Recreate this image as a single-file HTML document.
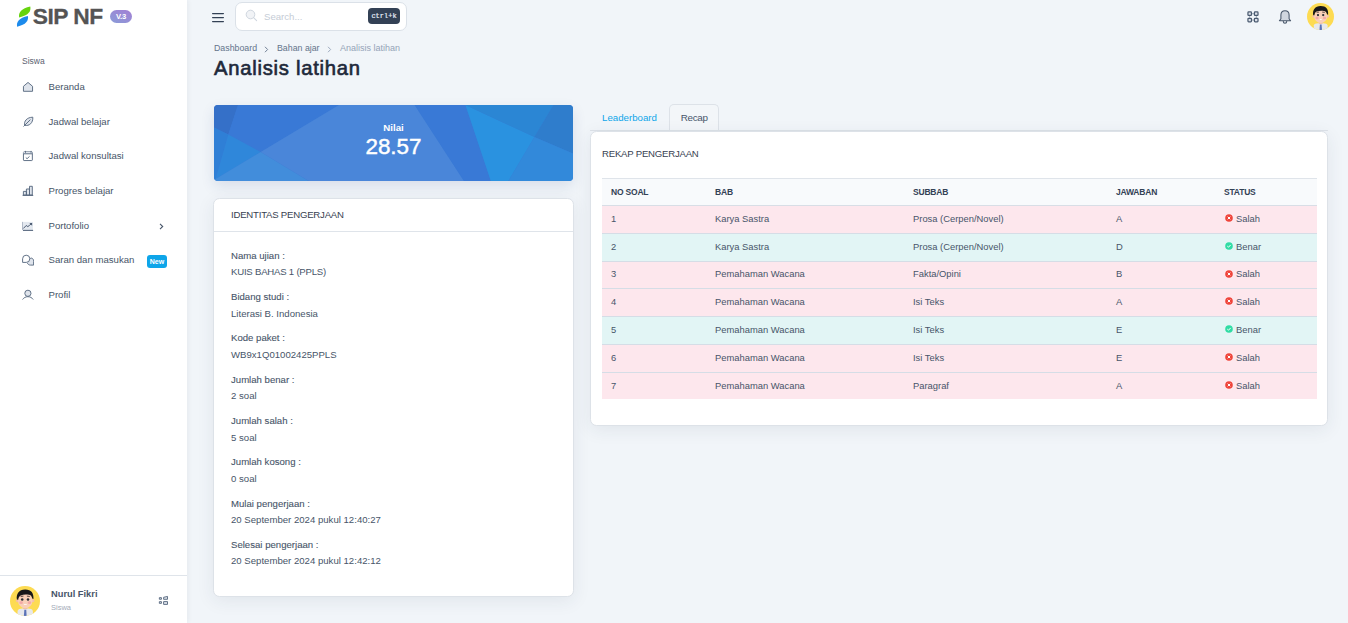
<!DOCTYPE html>
<html><head><meta charset="utf-8">
<style>
*{box-sizing:border-box;margin:0;padding:0}
html,body{width:1348px;height:623px;overflow:hidden}
body{background:#f1f5f9;font-family:"Liberation Sans",sans-serif;color:#475569;position:relative}
.a{position:absolute;white-space:nowrap}
#side{position:absolute;left:0;top:0;width:187px;height:623px;background:#fff;box-shadow:1px 0 5px rgba(30,41,59,.06)}
.nav{position:absolute;left:0;width:187px;height:20px}
.nav .ic{position:absolute;left:22px;top:4px;width:12px;height:12px}
.nav .tx{position:absolute;left:48.5px;top:0px;font-size:9.6px;line-height:20px;color:#475569}
.card{position:absolute;background:#fff;border:1px solid #dde2e8;border-radius:6.5px;box-shadow:0 4px 18px rgba(40,45,80,.08)}
.lbl{font-size:9.6px;color:#475569;-webkit-text-stroke:0.1px #475569}
.val{font-size:9.6px;color:#475569}
.th{font-size:8.5px;font-weight:bold;color:#334155;line-height:12px;letter-spacing:-0.2px}
.td{font-size:9.4px;color:#475569;line-height:12px}
</style></head><body>

<!-- SIDEBAR -->
<div id="side">
  <!-- logo -->
  <svg class="a" style="left:15px;top:5px" width="18" height="24" viewBox="0 0 18 24">
    <path d="M4.1 12.4 C3.3 7.6 6.5 3.4 15.3 1.6 C16.2 6.6 13.4 10.6 4.1 12.4Z" fill="#66d40e"/>
    <path d="M2.1 21.7 C1.2 16.8 4 12.9 12.9 11 C13.8 15.6 11 19.7 2.1 21.7Z" fill="#1d8bec"/>
  </svg>
  <div class="a" style="left:32.8px;top:3.1px;font-size:22.8px;line-height:26px;font-weight:bold;color:#545454;letter-spacing:-0.55px;-webkit-text-stroke:0.3px #545454">SIP NF</div>
  <div class="a" style="left:110px;top:10px;width:22px;height:13px;border-radius:7px;background:linear-gradient(25deg,#8a9cd8,#a37fd4);color:#fff;font-size:7.6px;font-weight:bold;line-height:13px;text-align:center;letter-spacing:-0.2px">V.3</div>

  <div class="a" style="left:22px;top:56.2px;font-size:8.5px;line-height:10px;color:#5b6170">Siswa</div>

  <div class="nav" style="top:77px">
    <svg class="ic" viewBox="0 0 12 12"><path d="M1.45 5.3 L6 1.45 L10.55 5.3 V10.3 H1.45 Z" fill="#dfe4ec" stroke="#5b6b82" stroke-width="0.95" stroke-linejoin="round"/></svg>
    <div class="tx">Beranda</div>
  </div>
  <div class="nav" style="top:112px">
    <svg class="ic" viewBox="0 0 12 12"><path d="M2.7 9.3 C1.7 5.4 4.7 1.3 10.8 1.2 C11.2 7 7.2 10.3 2.7 9.3Z" fill="#dfe4ec" stroke="#5b6b82" stroke-width="0.95"/><path d="M1.5 10.5 L8.4 3.6" fill="none" stroke="#5b6b82" stroke-width="0.95"/></svg>
    <div class="tx">Jadwal belajar</div>
  </div>
  <div class="nav" style="top:146px">
    <svg class="ic" viewBox="0 0 12 12"><rect x="1.45" y="1.9" width="8.9" height="8.65" rx="0.6" fill="none" stroke="#5b6b82" stroke-width="0.95"/><rect x="1.5" y="2" width="8.8" height="1.8" fill="#dfe4ec"/><path d="M1.45 3.8 H10.35 M3.5 0.9 V2.8 M9.05 0.9 V2.8 M3.8 7.6 L5.1 8.7 L7.5 6.4" fill="none" stroke="#5b6b82" stroke-width="0.95"/></svg>
    <div class="tx">Jadwal konsultasi</div>
  </div>
  <div class="nav" style="top:181px">
    <svg class="ic" viewBox="0 0 12 12"><path d="M1.4 10 V6.4 H4.4 V10 Z M4.4 10 V4 H7.5 V10 Z M7.5 10 V1.3 H10.3 V10 Z" fill="#dfe4ec" stroke="#5b6b82" stroke-width="0.95"/><path d="M0.6 10.4 H11.2" fill="none" stroke="#5b6b82" stroke-width="1.1"/></svg>
    <div class="tx">Progres belajar</div>
  </div>
  <div class="nav" style="top:216px">
    <svg class="ic" viewBox="0 0 12 12"><rect x="0.1" y="1.9" width="10.8" height="8.5" fill="#e3e8ef"/><path d="M0.5 1.9 V10" stroke="#aab4c3" stroke-width="0.9"/><path d="M1 10.4 H11.1" stroke="#5b6b82" stroke-width="1.1"/><path d="M1.3 8.5 L4.2 5.5 L5.8 6.6 L7.3 5.5 L9.2 3.8" fill="none" stroke="#4b5a72" stroke-width="1"/><path d="M7.4 3.1 L10.1 3.1 L10.1 5.8Z" fill="#4b5a72"/></svg>
    <div class="tx">Portofolio</div>
    <svg class="a" style="left:159px;top:7px" width="5" height="7" viewBox="0 0 5 7"><path d="M1 0.9 L3.7 3.5 L1 6.1" fill="none" stroke="#475569" stroke-width="1.1"/></svg>
  </div>
  <div class="nav" style="top:250px">
    <svg class="ic" viewBox="0 0 12 12"><path d="M7.4 5.2 C8 4.6 8.7 4.1 9.4 4.1 C10.9 4.3 11.6 5.6 11.6 7.4 V11.1 H8.4 C7 11.1 5.7 10.3 5.3 8.8" fill="#dfe4ec" stroke="#5b6b82" stroke-width="0.95"/><path d="M0.6 8.4 V4.8 A3.6 3.6 0 1 1 4.2 8.4 Z" fill="#fff" stroke="#5b6b82" stroke-width="0.95"/></svg>
    <div class="tx">Saran dan masukan</div>
    <div class="a" style="left:147px;top:5px;width:20px;height:13px;border-radius:3px;background:#0ea5e9;color:#fff;font-size:7px;font-weight:bold;line-height:13px;text-align:center">New</div>
  </div>
  <div class="nav" style="top:285px">
    <svg class="ic" viewBox="0 0 12 12"><circle cx="5.9" cy="4.3" r="3.1" fill="#dfe4ec" stroke="#5b6b82" stroke-width="0.95"/><path d="M0.6 10.5 C1.8 8.7 3.6 7.7 5.9 7.7 C8.2 7.7 10 8.7 11.2 10.5" fill="none" stroke="#5b6b82" stroke-width="0.95"/></svg>
    <div class="tx">Profil</div>
  </div>

  <div class="a" style="left:0;top:575px;width:187px;height:1px;background:#dfe4ea"></div>
  <svg class="a" id="av1" style="left:10px;top:586px" width="30" height="30" viewBox="0 0 27 27">
    <defs><clipPath id="cc1"><circle cx="13.5" cy="13.5" r="13.5"/></clipPath></defs>
    <g clip-path="url(#cc1)">
      <rect width="27" height="27" fill="#fddb52"/>
      <path d="M6.6 27 L6.9 22.2 C7.2 21 9 20.4 11.2 20.3 H16.2 C18.4 20.4 20.2 21 20.5 22.2 L20.8 27 Z" fill="#e7e8ec"/>
      <rect x="11.8" y="17.6" width="3.8" height="3.2" fill="#f2bda3"/>
      <path d="M12.9 21.4 H14.6 L15 27 H12.5Z" fill="#5b73b7"/>
      <circle cx="6.9" cy="13.2" r="1.5" fill="#f5bfa6"/><circle cx="20.5" cy="13.2" r="1.5" fill="#f5bfa6"/>
      <ellipse cx="13.7" cy="13.2" rx="6.5" ry="6.9" fill="#f9cfb8"/>
      <path d="M6.2 12.2 C5.4 7 8 3.3 13.6 3.1 C19 3 21.6 6.4 21.1 11.8 L20 11.2 C19.7 9.2 18.6 8.1 17 7.9 C14.2 7.5 11.6 7.7 9.6 8.5 C8.2 9.1 7.6 10.6 7.4 12.3 Z" fill="#17171a"/>
      <path d="M9.6 9.4 L12.1 9.1 M15.2 9.1 L17.8 9.4" stroke="#5a4640" stroke-width="0.9"/>
      <circle cx="11" cy="12.1" r="1.15" fill="#2b3036"/><circle cx="16.2" cy="12.1" r="1.15" fill="#2b3036"/>
      <ellipse cx="10" cy="15" rx="1.6" ry="1.2" fill="#f3a1a3" opacity=".85"/><ellipse cx="17.5" cy="15" rx="1.6" ry="1.2" fill="#f3a1a3" opacity=".85"/>
      <path d="M12.3 16.1 H15.2 C15 17.2 12.5 17.2 12.3 16.1Z" fill="#fff"/>
    </g>
  </svg>
  <div class="a" style="left:51px;top:588.5px;font-size:9.3px;font-weight:bold;line-height:11px;color:#475569">Nurul Fikri</div>
  <div class="a" style="left:51px;top:602.6px;font-size:7.5px;line-height:9px;color:#a3abb8">Siswa</div>
  <svg class="a" style="left:158px;top:595px" width="11" height="11" viewBox="0 0 11 11"><path d="M1.35 2.65 H3.45 V4.25 H1.35Z M1.35 6.65 H3.45 V8.35 H1.35Z M5.6 2.3 L9.5 1.45 V4.3 H5.6Z M5.6 6.6 H9.5 V9.4 H5.6Z" fill="#dfe4ec" stroke="#5b6b82" stroke-width="0.95"/></svg>
</div>

<!-- TOPBAR -->
<svg class="a" style="left:211px;top:12px" width="14" height="11" viewBox="0 0 14 11"><path d="M1.6 1.5 H12.4 M1.6 5.5 H12.4 M1.6 9.5 H12.4" stroke="#334155" stroke-width="1.25" stroke-linecap="round"/></svg>
<div class="a" style="left:235px;top:2px;width:172px;height:29px;background:#fff;border:1px solid #dbe1e8;border-radius:7px"></div>
<svg class="a" style="left:245px;top:9px" width="13" height="13" viewBox="0 0 13 13"><circle cx="5.5" cy="5.5" r="4.3" fill="#f1f3f6" stroke="#cfd6df" stroke-width="1"/><path d="M8.6 8.6 L11.6 11.6" stroke="#cfd6df" stroke-width="1.1" stroke-linecap="round"/></svg>
<div class="a" style="left:264px;top:11px;font-size:9.6px;line-height:12px;color:#c5ccd6">Search...</div>
<div class="a" style="left:368px;top:8px;width:32px;height:16px;background:#334155;border-radius:4px;color:#e8eef8;font-family:'Liberation Mono',monospace;font-size:7px;line-height:16px;text-align:center;-webkit-text-stroke:0.2px #e8eef8">ctrl+k</div>

<svg class="a" style="left:1246px;top:10px" width="14" height="14" viewBox="0 0 14 14"><path d="M5.9 3.65 H8.2 M5.9 10.1 H8.2 M3.6 5.9 V7.9 M10.4 5.9 V7.9" stroke="#9aa6b6" stroke-width="0.9"/><g fill="#dde2ea" stroke="#4a5a70" stroke-width="1.25"><rect x="1.95" y="1.95" width="3.5" height="3.5" rx="0.7"/><rect x="8.4" y="1.95" width="3.6" height="3.5" rx="0.7"/><rect x="1.95" y="8.4" width="3.5" height="3.4" rx="0.7"/><rect x="8.4" y="8.4" width="3.6" height="3.4" rx="0.7"/></g></svg>
<svg class="a" style="left:1278px;top:9px" width="14" height="16" viewBox="0 0 14 16"><path d="M7 1.7 C4.3 1.7 2.9 3.4 2.9 6 V9.7 L1.4 11.7 H12.6 L11.1 9.7 V6 C11.1 3.4 9.7 1.7 7 1.7Z" fill="#d0d6df" stroke="#475569" stroke-width="1.05" stroke-linejoin="round"/><path d="M5.2 12.1 C5.3 13.6 6.1 14.2 7 14.2 C7.9 14.2 8.7 13.6 8.8 12.1" fill="none" stroke="#475569" stroke-width="1.05"/></svg>
<svg class="a" style="left:1307px;top:2.8px" width="27" height="27" viewBox="0 0 27 27">
    <defs><clipPath id="cc2"><circle cx="13.5" cy="13.5" r="13.5"/></clipPath></defs>
    <g clip-path="url(#cc2)">
      <rect width="27" height="27" fill="#fddb52"/>
      <path d="M6.6 27 L6.9 22.2 C7.2 21 9 20.4 11.2 20.3 H16.2 C18.4 20.4 20.2 21 20.5 22.2 L20.8 27 Z" fill="#e7e8ec"/>
      <rect x="11.8" y="17.6" width="3.8" height="3.2" fill="#f2bda3"/>
      <path d="M12.9 21.4 H14.6 L15 27 H12.5Z" fill="#5b73b7"/>
      <circle cx="6.9" cy="13.2" r="1.5" fill="#f5bfa6"/><circle cx="20.5" cy="13.2" r="1.5" fill="#f5bfa6"/>
      <ellipse cx="13.7" cy="13.2" rx="6.5" ry="6.9" fill="#f9cfb8"/>
      <path d="M6.2 12.2 C5.4 7 8 3.3 13.6 3.1 C19 3 21.6 6.4 21.1 11.8 L20 11.2 C19.7 9.2 18.6 8.1 17 7.9 C14.2 7.5 11.6 7.7 9.6 8.5 C8.2 9.1 7.6 10.6 7.4 12.3 Z" fill="#17171a"/>
      <path d="M9.6 9.4 L12.1 9.1 M15.2 9.1 L17.8 9.4" stroke="#5a4640" stroke-width="0.9"/>
      <circle cx="11" cy="12.1" r="1.15" fill="#2b3036"/><circle cx="16.2" cy="12.1" r="1.15" fill="#2b3036"/>
      <ellipse cx="10" cy="15" rx="1.6" ry="1.2" fill="#f3a1a3" opacity=".85"/><ellipse cx="17.5" cy="15" rx="1.6" ry="1.2" fill="#f3a1a3" opacity=".85"/>
      <path d="M12.3 16.1 H15.2 C15 17.2 12.5 17.2 12.3 16.1Z" fill="#fff"/>
    </g>
</svg>

<!-- HEADER -->
<div class="a" style="left:214px;top:42.8px;font-size:8.8px;line-height:10px;color:#64748b">Dashboard</div>
<svg class="a" style="left:264px;top:45.5px" width="5" height="7" viewBox="0 0 5 7"><path d="M1 0.8 L3.6 3.5 L1 6.2" fill="none" stroke="#64748b" stroke-width="0.9"/></svg>
<div class="a" style="left:277px;top:42.8px;font-size:8.8px;line-height:10px;color:#64748b">Bahan ajar</div>
<svg class="a" style="left:327px;top:45.5px" width="5" height="7" viewBox="0 0 5 7"><path d="M1 0.8 L3.6 3.5 L1 6.2" fill="none" stroke="#94a3b8" stroke-width="0.9"/></svg>
<div class="a" style="left:340px;top:42.8px;font-size:9px;line-height:10px;color:#94a3b8">Analisis latihan</div>
<div class="a" style="left:214px;top:56.3px;font-size:20.2px;line-height:24px;color:#1e293b;letter-spacing:0.75px;-webkit-text-stroke:0.65px #1e293b">Analisis latihan</div>

<!-- BLUE CARD -->
<div class="a" style="left:214px;top:105px;width:359px;height:76px;border-radius:4px;overflow:hidden;box-shadow:0 5px 14px rgba(30,60,120,.12)">
  <svg width="359" height="76" viewBox="0 0 359 76" style="display:block">
    <rect width="359" height="76" fill="#3a7bd5"/>
    <polygon points="0,0 24,0 14.3,29.5 0,22.5" fill="#3570c8"/>
    <polygon points="24,0 125,0 46.7,47 14.3,29.5" fill="#3979d6"/>
    <polygon points="0,22.5 14.3,29.5 1.6,74 0,76" fill="#2f7fd6"/>
    <polygon points="14.3,29.5 46.7,47 1.6,74" fill="#2f87da"/>
    <polygon points="1.6,74 46.7,47 94.7,76 0,76" fill="#428ddb"/>
    <polygon points="125,0 200.7,0 250,76 94.7,76 46.7,47" fill="#4a86d9"/>
    <polygon points="200.7,0 251.4,0 276.8,76 250,76" fill="#3979d6"/>
    <polygon points="251.4,0 320.5,32 294.4,76 276.8,76" fill="#2a92e0"/>
    <polygon points="251.4,0 339.5,0 320.5,32" fill="#2b86d4"/>
    <polygon points="339.5,0 359,0 359,48.6 320.5,32" fill="#2f7dcc"/>
    <polygon points="320.5,32 359,48.6 359,76 294.4,76" fill="#3289da"/>
  </svg>
  <div class="a" style="left:0;top:16.7px;width:359px;text-align:center;font-size:9.7px;font-weight:bold;color:#fff;line-height:11px">Nilai</div>
  <div class="a" style="left:0;top:29.4px;width:359px;text-align:center;font-size:22.4px;color:#fff;line-height:26px;-webkit-text-stroke:0.45px #fff">28.57</div>
</div>

<!-- IDENTITAS CARD -->
<div class="card" style="left:213px;top:198px;width:361px;height:399px">
  <div class="a" style="left:17px;top:10.3px;font-size:9.6px;line-height:12px;color:#374151;letter-spacing:-0.22px">IDENTITAS PENGERJAAN</div>
  <div class="a" style="left:0;top:32px;width:359px;height:1px;background:#dfe4ea"></div>
</div>
<div id="ident">
<div class="a lbl" style="left:231px;top:249.7px;line-height:12px">Nama ujian :</div>
<div class="a val" style="left:231px;top:266.3px;line-height:12px;letter-spacing:-0.22px">KUIS BAHAS 1 (PPLS)</div>
<div class="a lbl" style="left:231px;top:291.0px;line-height:12px">Bidang studi :</div>
<div class="a val" style="left:231px;top:307.6px;line-height:12px">Literasi B. Indonesia</div>
<div class="a lbl" style="left:231px;top:332.3px;line-height:12px">Kode paket :</div>
<div class="a val" style="left:231px;top:348.9px;line-height:12px">WB9x1Q01002425PPLS</div>
<div class="a lbl" style="left:231px;top:373.6px;line-height:12px">Jumlah benar :</div>
<div class="a val" style="left:231px;top:390.2px;line-height:12px">2 soal</div>
<div class="a lbl" style="left:231px;top:414.9px;line-height:12px">Jumlah salah :</div>
<div class="a val" style="left:231px;top:431.5px;line-height:12px">5 soal</div>
<div class="a lbl" style="left:231px;top:456.2px;line-height:12px">Jumlah kosong :</div>
<div class="a val" style="left:231px;top:472.8px;line-height:12px">0 soal</div>
<div class="a lbl" style="left:231px;top:497.5px;line-height:12px">Mulai pengerjaan :</div>
<div class="a val" style="left:231px;top:514.1px;line-height:12px">20 September 2024 pukul 12:40:27</div>
<div class="a lbl" style="left:231px;top:538.8px;line-height:12px">Selesai pengerjaan :</div>
<div class="a val" style="left:231px;top:555.4px;line-height:12px">20 September 2024 pukul 12:42:12</div>
</div>

<!-- TABS -->
<div class="a" style="left:602px;top:112px;font-size:9.7px;line-height:12px;color:#0ea5e9">Leaderboard</div>
<div class="a" style="left:669px;top:104px;width:50px;height:28px;border:1px solid #dde2e8;border-bottom:none;border-radius:5px 5px 0 0;background:#f3f6f9"></div>
<div class="a" style="left:680.8px;top:111.5px;font-size:9.9px;line-height:12px;color:#475569;letter-spacing:-0.35px">Recap</div>
<div class="a" style="left:590px;top:130px;width:738px;height:1px;background:#dde2e8"></div>

<!-- RECAP CARD -->
<div class="card" style="left:590px;top:131px;width:738px;height:295px">
  <div class="a" style="left:11px;top:16px;font-size:9.6px;line-height:12px;color:#374151;letter-spacing:-0.22px">REKAP PENGERJAAN</div>
</div>
<div id="tbl">
<div class="a" style="left:602px;top:178px;width:715px;height:28px;background:#f8fafc"></div>
<div class="a th" style="left:611px;top:186px">NO SOAL</div>
<div class="a th" style="left:715px;top:186px">BAB</div>
<div class="a th" style="left:913px;top:186px">SUBBAB</div>
<div class="a th" style="left:1116px;top:186px">JAWABAN</div>
<div class="a th" style="left:1224px;top:186px">STATUS</div>
<div class="a" style="left:602px;top:205.3px;width:715px;height:28.1px;background:#fde7ed"></div>
<div class="a" style="left:602px;top:233.4px;width:715px;height:28.1px;background:#e2f5f5"></div>
<div class="a" style="left:602px;top:261.5px;width:715px;height:27.2px;background:#fde7ed"></div>
<div class="a" style="left:602px;top:288.7px;width:715px;height:27.7px;background:#fde7ed"></div>
<div class="a" style="left:602px;top:316.4px;width:715px;height:28.0px;background:#e2f5f5"></div>
<div class="a" style="left:602px;top:344.4px;width:715px;height:28.2px;background:#fde7ed"></div>
<div class="a" style="left:602px;top:372.6px;width:715px;height:26.3px;background:#fde7ed"></div>
<div class="a" style="left:602px;top:178px;width:715px;height:1px;background:#dfe4ea"></div>
<div class="a" style="left:602px;top:205px;width:715px;height:1px;background:#d8dee6"></div>
<div class="a" style="left:602px;top:233px;width:715px;height:1px;background:#d5dde6"></div>
<div class="a" style="left:602px;top:261px;width:715px;height:1px;background:#d5dde6"></div>
<div class="a" style="left:602px;top:288px;width:715px;height:1px;background:#d5dde6"></div>
<div class="a" style="left:602px;top:316px;width:715px;height:1px;background:#d5dde6"></div>
<div class="a" style="left:602px;top:344px;width:715px;height:1px;background:#d5dde6"></div>
<div class="a" style="left:602px;top:372px;width:715px;height:1px;background:#d5dde6"></div>
<div class="a td" style="left:611px;top:212.7px">1</div>
<div class="a td" style="left:715px;top:212.7px">Karya Sastra</div>
<div class="a td" style="left:913px;top:212.7px">Prosa (Cerpen/Novel)</div>
<div class="a td" style="left:1116px;top:212.7px">A</div>
<svg class="a" style="left:1224.8px;top:214.1px" width="8" height="8" viewBox="0 0 8 8"><circle cx="4" cy="4" r="3.8" fill="#ef443a"/><path d="M2.7 2.7 L5.3 5.3 M5.3 2.7 L2.7 5.3" fill="none" stroke="#fff" stroke-width="1"/></svg>
<div class="a td" style="left:1236px;top:212.7px">Salah</div>
<div class="a td" style="left:611px;top:240.8px">2</div>
<div class="a td" style="left:715px;top:240.8px">Karya Sastra</div>
<div class="a td" style="left:913px;top:240.8px">Prosa (Cerpen/Novel)</div>
<div class="a td" style="left:1116px;top:240.8px">D</div>
<svg class="a" style="left:1224.8px;top:242.1px" width="8" height="8" viewBox="0 0 8 8"><circle cx="4" cy="4" r="3.8" fill="#30dca4"/><path d="M2.3 4.1 L3.5 5.2 L5.7 2.9" fill="none" stroke="#fff" stroke-width="1"/></svg>
<div class="a td" style="left:1236px;top:240.8px">Benar</div>
<div class="a td" style="left:611px;top:268.4px">3</div>
<div class="a td" style="left:715px;top:268.4px">Pemahaman Wacana</div>
<div class="a td" style="left:913px;top:268.4px">Fakta/Opini</div>
<div class="a td" style="left:1116px;top:268.4px">B</div>
<svg class="a" style="left:1224.8px;top:269.8px" width="8" height="8" viewBox="0 0 8 8"><circle cx="4" cy="4" r="3.8" fill="#ef443a"/><path d="M2.7 2.7 L5.3 5.3 M5.3 2.7 L2.7 5.3" fill="none" stroke="#fff" stroke-width="1"/></svg>
<div class="a td" style="left:1236px;top:268.4px">Salah</div>
<div class="a td" style="left:611px;top:295.8px">4</div>
<div class="a td" style="left:715px;top:295.8px">Pemahaman Wacana</div>
<div class="a td" style="left:913px;top:295.8px">Isi Teks</div>
<div class="a td" style="left:1116px;top:295.8px">A</div>
<svg class="a" style="left:1224.8px;top:297.2px" width="8" height="8" viewBox="0 0 8 8"><circle cx="4" cy="4" r="3.8" fill="#ef443a"/><path d="M2.7 2.7 L5.3 5.3 M5.3 2.7 L2.7 5.3" fill="none" stroke="#fff" stroke-width="1"/></svg>
<div class="a td" style="left:1236px;top:295.8px">Salah</div>
<div class="a td" style="left:611px;top:323.7px">5</div>
<div class="a td" style="left:715px;top:323.7px">Pemahaman Wacana</div>
<div class="a td" style="left:913px;top:323.7px">Isi Teks</div>
<div class="a td" style="left:1116px;top:323.7px">E</div>
<svg class="a" style="left:1224.8px;top:325.1px" width="8" height="8" viewBox="0 0 8 8"><circle cx="4" cy="4" r="3.8" fill="#30dca4"/><path d="M2.3 4.1 L3.5 5.2 L5.7 2.9" fill="none" stroke="#fff" stroke-width="1"/></svg>
<div class="a td" style="left:1236px;top:323.7px">Benar</div>
<div class="a td" style="left:611px;top:351.8px">6</div>
<div class="a td" style="left:715px;top:351.8px">Pemahaman Wacana</div>
<div class="a td" style="left:913px;top:351.8px">Isi Teks</div>
<div class="a td" style="left:1116px;top:351.8px">E</div>
<svg class="a" style="left:1224.8px;top:353.2px" width="8" height="8" viewBox="0 0 8 8"><circle cx="4" cy="4" r="3.8" fill="#ef443a"/><path d="M2.7 2.7 L5.3 5.3 M5.3 2.7 L2.7 5.3" fill="none" stroke="#fff" stroke-width="1"/></svg>
<div class="a td" style="left:1236px;top:351.8px">Salah</div>
<div class="a td" style="left:611px;top:379.8px">7</div>
<div class="a td" style="left:715px;top:379.8px">Pemahaman Wacana</div>
<div class="a td" style="left:913px;top:379.8px">Paragraf</div>
<div class="a td" style="left:1116px;top:379.8px">A</div>
<svg class="a" style="left:1224.8px;top:381.2px" width="8" height="8" viewBox="0 0 8 8"><circle cx="4" cy="4" r="3.8" fill="#ef443a"/><path d="M2.7 2.7 L5.3 5.3 M5.3 2.7 L2.7 5.3" fill="none" stroke="#fff" stroke-width="1"/></svg>
<div class="a td" style="left:1236px;top:379.8px">Salah</div>
</div>

</body></html>
